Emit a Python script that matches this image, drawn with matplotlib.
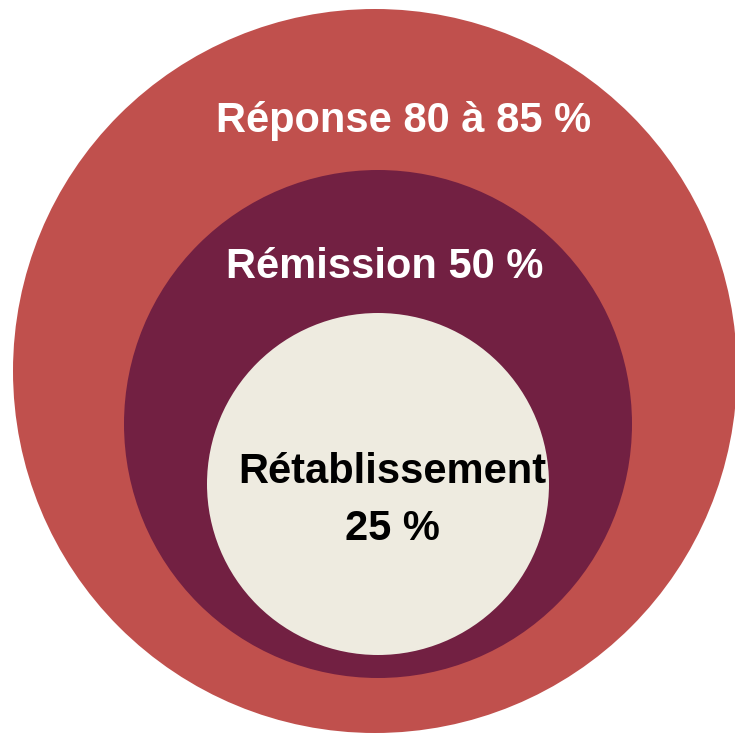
import matplotlib.pyplot as plt
from matplotlib.patches import Circle

# nested circles, outermost first
labels = ["Réponse 80 à 85 %", "Rémission 50 %", "Rétablissement\n25 %"]
colors = ["#C0504D", "#722042", "#EEEBE0"]
text_colors = ["white", "white", "black"]
centers = [(375, 371), (378, 424), (378, 484)]
radii = [362, 254, 171]
label_pos = [(404, 132), (385, 278), (392, 483)]  # baseline of first line

W, H = 735, 737
fig = plt.figure(figsize=(W / 100, H / 100), dpi=100)
ax = fig.add_axes([0, 0, 1, 1])
ax.set_xlim(0, W)
ax.set_ylim(H, 0)
ax.set_aspect("equal")
ax.axis("off")

for c, r, col in zip(centers, radii, colors):
    ax.add_patch(Circle(c, r, facecolor=col, edgecolor="none"))

font = ["Liberation Sans", "DejaVu Sans"]
for lab, (x, y), tc in zip(labels, label_pos, text_colors):
    lines = lab.split("\n")
    for i, line in enumerate(lines):
        ax.text(x, y + 57 * i, line, ha="center", va="baseline", color=tc,
                fontsize=30, fontweight="bold", family=font)

fig.savefig("out.png", dpi=100)
